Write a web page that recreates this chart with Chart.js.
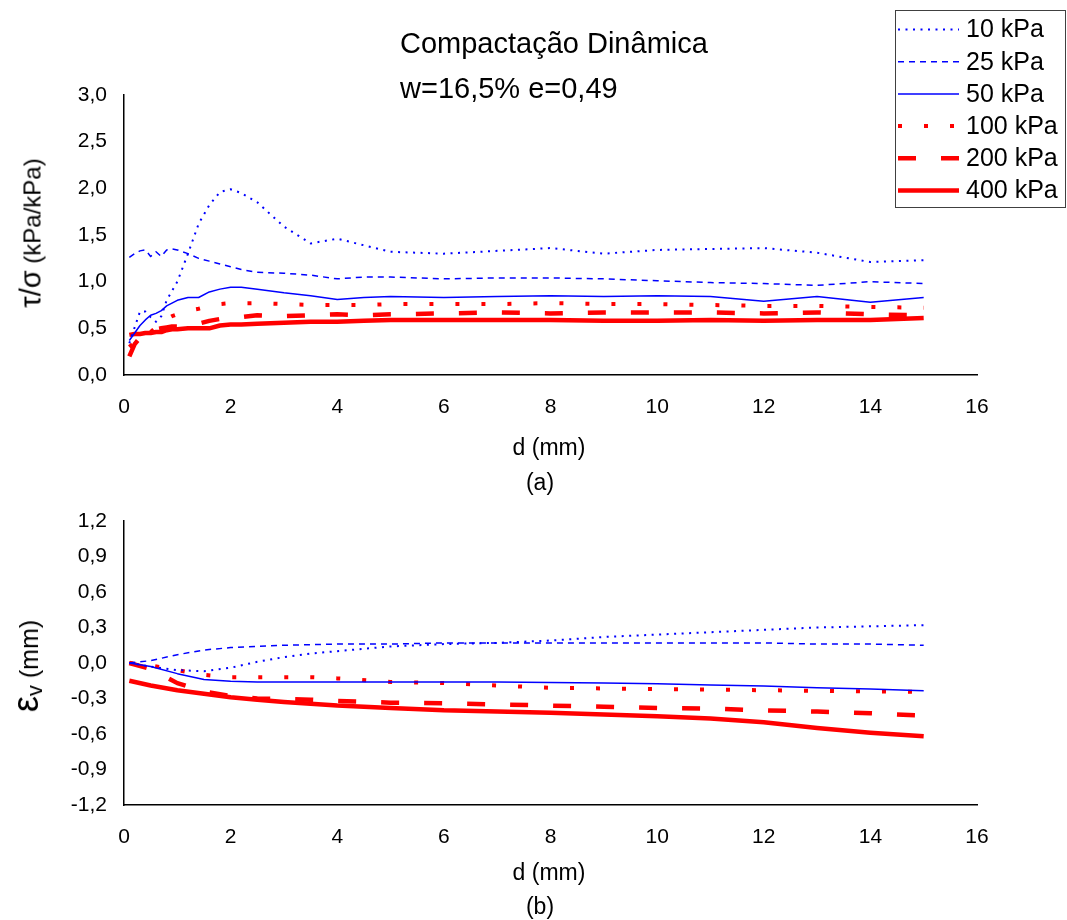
<!DOCTYPE html>
<html><head><meta charset="utf-8">
<script src="https://cdn.jsdelivr.net/npm/chart.js@4.4.1/dist/chart.umd.min.js"></script>
<style>
body{margin:0;background:#fff;width:1067px;height:920px;position:relative;overflow:hidden;font-family:"Liberation Sans",Arial,sans-serif;color:#000}
canvas{position:absolute;left:0}
.t{position:absolute;white-space:nowrap;line-height:1}
.rot{position:absolute;white-space:nowrap;line-height:1;transform:translate(-50%,-50%) rotate(-90deg)}
</style></head><body>
<canvas id="c1" width="1067" height="440" style="top:0"></canvas>
<canvas id="c2" width="1067" height="440" style="top:430px"></canvas>
<div class="t" style="left:400px;top:28.5px;font-size:29px">Compactação Dinâmica</div>
<div class="t" style="left:400px;top:74px;font-size:29px">w=16,5% e=0,49</div>
<div class="rot" style="left:31px;top:233px;font-size:24px"><span style="font-size:29px">τ/σ</span> (kPa/kPa)</div>
<div class="rot" style="left:27px;top:666px;font-size:25px"><span style="font-size:36px">ε</span><sub style="font-size:22px;vertical-align:-4px">v</sub> (mm)</div>
<div class="t" style="left:549px;top:435.5px;font-size:23px;transform:translateX(-50%)">d (mm)</div>
<div class="t" style="left:540px;top:470.5px;font-size:23px;transform:translateX(-50%)">(a)</div>
<div class="t" style="left:549px;top:861px;font-size:23px;transform:translateX(-50%)">d (mm)</div>
<div class="t" style="left:540px;top:895px;font-size:23px;transform:translateX(-50%)">(b)</div>
<script>
// ---- data ----
const seriesNames = ['10 kPa','25 kPa','50 kPa','100 kPa','200 kPa','400 kPa'];
const xTicks = [0,2,4,6,8,10,12,14,16];
const yTicksTop = [0,0.5,1,1.5,2,2.5,3];
const yTicksBot = [-1.2,-0.9,-0.6,-0.3,0,0.3,0.6,0.9,1.2];

const dTop = [0.1,0.2,0.3,0.4,0.5,0.6,0.7,0.8,0.9,1.0,1.2,1.4,1.6,1.8,2.0,2.2,2.5,3.0,3.5,4,4.5,5,6,7,8,9,10,11,12,13,14,15];
const tau10  = [0.34,0.51,0.68,0.68,0.62,0.57,0.63,0.80,0.90,1.00,1.30,1.62,1.82,1.96,1.99,1.95,1.85,1.59,1.41,1.46,1.39,1.32,1.30,1.33,1.36,1.30,1.34,1.35,1.36,1.31,1.21,1.23];
const tau25  = [1.26,1.30,1.33,1.34,1.27,1.32,1.27,1.34,1.35,1.34,1.30,1.25,1.22,1.19,1.16,1.13,1.10,1.09,1.07,1.03,1.05,1.05,1.03,1.04,1.04,1.03,1.01,0.99,0.98,0.96,1.00,0.98];
const tau50  = [0.37,0.45,0.53,0.59,0.64,0.66,0.69,0.74,0.77,0.80,0.83,0.83,0.89,0.92,0.94,0.94,0.92,0.88,0.85,0.81,0.83,0.84,0.83,0.84,0.85,0.84,0.85,0.84,0.79,0.84,0.78,0.83];
const tau100 = [0.30,0.35,0.39,0.42,0.46,0.51,0.56,0.60,0.63,0.65,0.69,0.71,0.74,0.76,0.77,0.77,0.77,0.76,0.75,0.75,0.75,0.76,0.76,0.76,0.77,0.76,0.76,0.75,0.74,0.74,0.73,0.72];
const tau200 = [0.20,0.33,0.40,0.44,0.47,0.49,0.50,0.51,0.52,0.52,0.53,0.55,0.58,0.60,0.61,0.62,0.64,0.63,0.64,0.65,0.64,0.65,0.66,0.67,0.66,0.67,0.67,0.67,0.66,0.67,0.65,0.64];
const tau400 = [0.43,0.44,0.44,0.45,0.45,0.46,0.46,0.48,0.49,0.49,0.50,0.50,0.50,0.53,0.54,0.54,0.55,0.56,0.57,0.57,0.58,0.59,0.59,0.59,0.59,0.58,0.58,0.59,0.58,0.59,0.59,0.61];

const dBot = [0.1,0.5,1,1.5,2,2.5,3,3.5,4,5,6,7,8,9,10,11,12,13,14,15];
const ev10  = [0.0,-0.03,-0.06,-0.07,-0.04,0.01,0.05,0.08,0.10,0.14,0.16,0.17,0.19,0.22,0.24,0.26,0.28,0.30,0.31,0.32];
const ev25  = [0.0,0.02,0.07,0.11,0.13,0.14,0.15,0.155,0.16,0.16,0.17,0.17,0.17,0.17,0.17,0.17,0.17,0.16,0.16,0.15];
const ev50  = [0.0,-0.03,-0.09,-0.14,-0.155,-0.16,-0.16,-0.16,-0.16,-0.16,-0.16,-0.16,-0.165,-0.17,-0.175,-0.185,-0.195,-0.21,-0.22,-0.235];
const ev100 = [0.0,-0.02,-0.06,-0.10,-0.12,-0.12,-0.12,-0.12,-0.13,-0.16,-0.17,-0.19,-0.21,-0.215,-0.22,-0.225,-0.23,-0.235,-0.24,-0.245];
const ev200 = [0.0,-0.05,-0.17,-0.24,-0.28,-0.30,-0.305,-0.31,-0.32,-0.335,-0.34,-0.35,-0.36,-0.37,-0.38,-0.385,-0.40,-0.41,-0.425,-0.445];
const ev400 = [-0.15,-0.19,-0.23,-0.26,-0.29,-0.31,-0.33,-0.345,-0.36,-0.38,-0.40,-0.41,-0.42,-0.435,-0.45,-0.47,-0.50,-0.55,-0.59,-0.62];

// ---- styles ----
const BLUE = '#0000FF', RED = '#FF0000';
const styles = [
  {borderColor:BLUE, borderWidth:2,   borderDash:[2,5.5]},
  {borderColor:BLUE, borderWidth:1.5, borderDash:[6,5]},
  {borderColor:BLUE, borderWidth:1.5, borderDash:[]},
  {borderColor:RED,  borderWidth:4,   borderDash:[4,22]},
  {borderColor:RED,  borderWidth:4.5, borderDash:[18,25]},
  {borderColor:RED,  borderWidth:4.5, borderDash:[]}
];
const FONT = '"Liberation Sans", Arial, sans-serif';

function makeDatasets(xs, ys){
  return ys.map((arr,i)=>Object.assign({
    label: seriesNames[i],
    data: arr.map((v,j)=>({x:xs[j], y:v})),
    pointRadius:0, tension:0, fill:false, borderJoinStyle:'round'
  }, styles[i]));
}
function fmt(v){ if (Math.abs(v)<1e-9) v=0; return v.toFixed(1).replace('.',','); }

const legendPlugin = {
  id:'boxLegend',
  afterDraw(chart, args, opts){
    if(!opts.show) return;
    const ctx = chart.ctx;
    ctx.save();
    ctx.setLineDash([]);
    ctx.strokeStyle = '#404040'; ctx.lineWidth = 1;
    ctx.strokeRect(895.5, 10.5, 170, 197);
    ctx.font = '25px ' + FONT;
    ctx.textBaseline = 'middle';
    ctx.fillStyle = '#000';
    chart.data.datasets.forEach((ds,i)=>{
      const y = 29.5 + i*32.2;
      ctx.beginPath();
      ctx.strokeStyle = ds.borderColor;
      ctx.lineWidth = ds.borderWidth;
      ctx.setLineDash(ds.borderDash);
      ctx.moveTo(898, y); ctx.lineTo(959, y); ctx.stroke();
      ctx.setLineDash([]);
      ctx.fillText(ds.label, 966, y+1);
    });
    ctx.restore();
  }
};

function makeChart(id, xs, ys, yMin, yMax, yTicks, padTop, showLegend){
  return new Chart(document.getElementById(id), {
    type:'line',
    data:{datasets: makeDatasets(xs, ys)},
    plugins:[legendPlugin],
    options:{
      responsive:false, animation:false, devicePixelRatio:1,
      layout:{padding:{left:0, right:90, top:padTop, bottom:0}},
      plugins:{legend:{display:false}, tooltip:{enabled:false}, boxLegend:{show:showLegend}},
      scales:{
        x:{type:'linear', min:xTicks[0], max:xTicks[xTicks.length-1],
           grid:{display:false, drawTicks:false},
           border:{display:true, color:'#000', width:1.5},
           afterBuildTicks:(s)=>{ s.ticks = xTicks.map(v=>({value:v})); },
           afterFit:(s)=>{ s.height = 65; },
           ticks:{padding:20, color:'#000', font:{family:FONT, size:21}, maxRotation:0, autoSkip:false}},
        y:{type:'linear', min:yMin, max:yMax,
           grid:{display:false, drawTicks:false},
           border:{display:true, color:'#000', width:1.5},
           afterBuildTicks:(s)=>{ s.ticks = yTicks.map(v=>({value:v})); },
           afterFit:(s)=>{ s.width = 124; },
           ticks:{padding:17, color:'#000', font:{family:FONT, size:21}, autoSkip:false, callback:(v)=>fmt(v)}}
      }
    }
  });
}

makeChart('c1', dTop, [tau10,tau25,tau50,tau100,tau200,tau400], 0, 3, yTicksTop, 95, true);
makeChart('c2', dBot, [ev10,ev25,ev50,ev100,ev200,ev400], -1.2, 1.2, yTicksBot, 91, false);
</script>
</body></html>
